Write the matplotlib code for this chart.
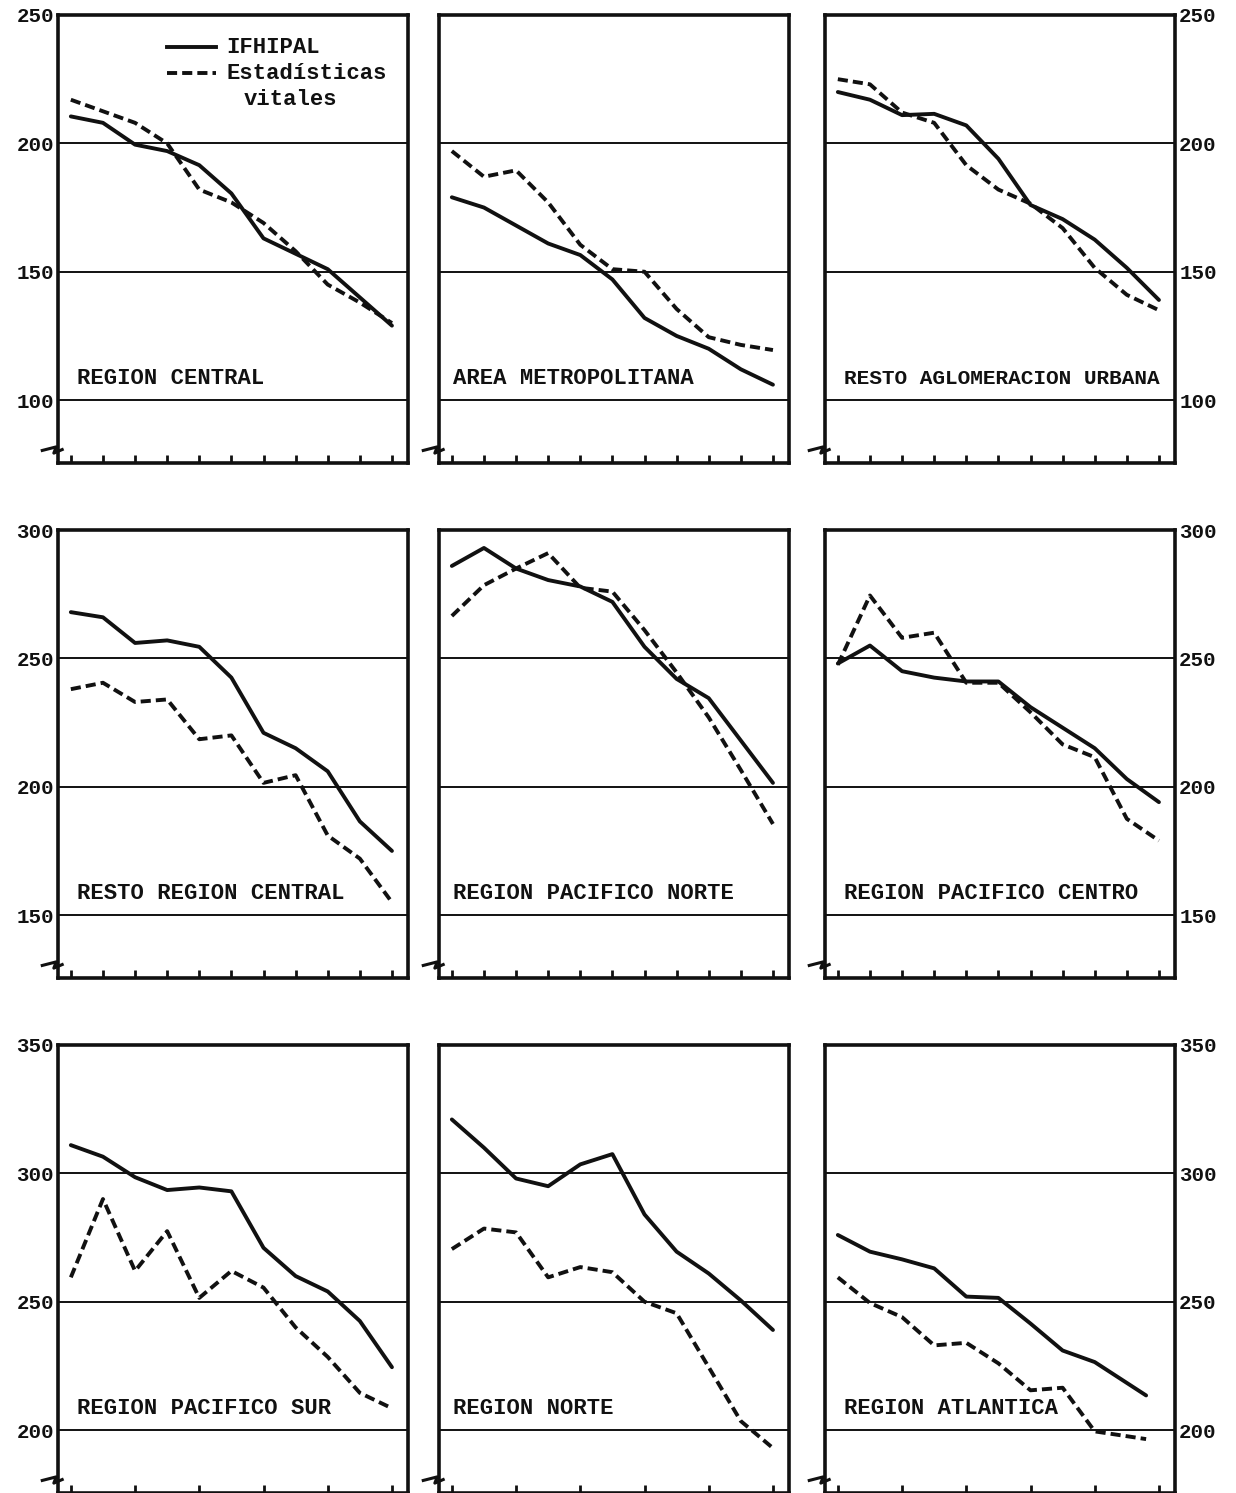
import matplotlib
matplotlib.use("Agg")
import matplotlib.pyplot as plt
from matplotlib.lines import Line2D

# ---------------- data ----------------
x11 = list(range(11))
x_atl = [0, 1, 2, 3, 4, 5, 6, 7, 8, 9.6]

titles = ["REGION CENTRAL", "AREA METROPOLITANA", "RESTO AGLOMERACION URBANA",
          "RESTO REGION CENTRAL", "REGION PACIFICO NORTE", "REGION PACIFICO CENTRO",
          "REGION PACIFICO SUR", "REGION NORTE", "REGION ATLANTICA"]

rc_ifh = [210.5, 208, 199.5, 197, 191.5, 180.5, 163, 157, 151, 140, 129]
rc_ev = [217, 212.5, 208, 200, 182, 177, 169, 158, 145, 138, 130]

am_ifh = [179, 175, 168, 161, 156.5, 147, 132, 125, 120, 112, 106]
am_ev = [197, 187, 189.5, 177, 160.5, 151, 150, 135.5, 124.5, 121.5, 119.5]

rau_ifh = [220, 217, 211, 211.5, 207, 194, 176, 170.5, 162.5, 151.5, 139]
rau_ev = [225, 223, 212, 208, 191.5, 182, 176.5, 167, 151.5, 141, 135]

rrc_ifh = [268, 266, 256, 257, 254.5, 242.5, 221, 215, 206, 186.5, 175]
rrc_ev = [238, 240.5, 233, 234, 218.5, 220, 201.5, 204.5, 181, 172, 155]

pn_ifh = [286, 293, 285, 280.5, 278, 272, 254.5, 242, 234.5, 218, 201.5]
pn_ev = [266.5, 278.5, 285, 291, 277.5, 276, 261, 244.5, 227, 206.5, 185.5]

pc_ifh = [248, 255, 245, 242.5, 241, 241, 231, 223, 215, 203, 194]
pc_ev = [247.5, 274.5, 258, 260, 240.5, 240.5, 229, 216.5, 211.5, 187.5, 179]

ps_ifh = [311, 306.5, 298.5, 293.5, 294.5, 293, 271, 260, 254, 242.5, 224.5]
ps_ev = [259.5, 290, 262, 277.5, 251.5, 262, 255.5, 240, 228.5, 214.5, 208.5]

rn_ifh = [321, 310, 298, 295, 303.5, 307.5, 284, 269.5, 261, 250.5, 239]
rn_ev = [270.5, 278.5, 277, 259.5, 263.5, 261.5, 250, 245.5, 224.5, 203.5, 193]

ra_ifh = [276, 269.5, 266.5, 263, 252, 251.5, 241.5, 231, 226.5, 213.5]
ra_ev = [259.5, 249.5, 244, 233, 234, 226, 215.5, 216.5, 199.5, 196.5]

series = [
    (x11, rc_ifh, rc_ev), (x11, am_ifh, am_ev), (x11, rau_ifh, rau_ev),
    (x11, rrc_ifh, rrc_ev), (x11, pn_ifh, pn_ev), (x11, pc_ifh, pc_ev),
    (x11, ps_ifh, ps_ev), (x11, rn_ifh, rn_ev), (x_atl, ra_ifh, ra_ev),
]

row_grid = [[100, 150, 200, 250], [150, 200, 250, 300], [200, 250, 300, 350]]
row_xticks = [list(range(11)), list(range(11)), [0, 2, 4, 6, 8, 10]]

legend_labels = ["IFHIPAL", "Estadísticas", "vitales"]

# ---------------- layout ----------------
W, H = 1236, 1493
fig = plt.figure(figsize=(W / 100, H / 100), dpi=100)
fig.patch.set_facecolor("white")

col_left = [58, 439, 825]
col_w = 350
row_top = [15, 530, 1045]
row_h = 448

FONT = "Liberation Mono"
INK = "#111111"
LW = 2.8
DASH = (0, (2.6, 1.3))

for i in range(9):
    r, c = divmod(i, 3)
    ax = fig.add_axes([col_left[c] / W, 1 - (row_top[r] + row_h) / H, col_w / W, row_h / H])
    grid = row_grid[r]
    ymin = grid[0] - 24.5
    ax.set_ylim(ymin, grid[-1])
    ax.set_xlim(-0.4, 10.5)

    for g in grid[:-1]:
        ax.axhline(g, color=INK, lw=1.4, zorder=1)

    xs, ifh, ev = series[i]
    ax.plot(xs, ifh, color=INK, lw=LW, solid_joinstyle="round", solid_capstyle="round", zorder=3)
    ax.plot(xs, ev, color=INK, lw=LW, linestyle=DASH, dash_capstyle="butt", zorder=3)

    for s in ax.spines.values():
        s.set_linewidth(2.6)
        s.set_color(INK)

    ax.set_xticks(row_xticks[r])
    ax.set_xticklabels([])
    ax.tick_params(axis="x", direction="in", length=6, width=2, color=INK, bottom=True, top=False)

    ax.set_yticks(grid)
    ax.set_yticklabels([str(g) for g in grid])
    ax.tick_params(axis="y", length=0, pad=3, labelsize=15, colors=INK)
    if c == 0:
        ax.tick_params(axis="y", left=True, labelleft=True, right=False, labelright=False)
    elif c == 2:
        ax.tick_params(axis="y", left=False, labelleft=False, right=True, labelright=True)
    else:
        ax.tick_params(axis="y", labelleft=False, labelright=False)
    for lab in ax.get_yticklabels():
        lab.set_fontfamily(FONT)
        lab.set_fontweight("bold")

    tx = 0.04 if c == 1 else 0.053
    fs = 15.2 if len(titles[i]) > 22 else 16
    ax.text(tx, 0.188, titles[i], transform=ax.transAxes, ha="left", va="center",
            fontsize=fs, family=FONT, fontweight="bold", color=INK, zorder=4)

    # axis-break symbol at lower left
    brk = Line2D([-0.045, -0.005, -0.012, 0.012],
                 [0.028, 0.036, 0.022, 0.030],
                 transform=ax.transAxes, color=INK, lw=2.2, clip_on=False)
    ax.add_line(brk)

    if i == 0:
        ax.add_line(Line2D([0.31, 0.45], [0.928, 0.928], transform=ax.transAxes,
                           color=INK, lw=LW))
        ax.add_line(Line2D([0.31, 0.45], [0.870, 0.870], transform=ax.transAxes,
                           color=INK, lw=LW, linestyle=DASH))
        ax.text(0.48, 0.928, legend_labels[0], transform=ax.transAxes, ha="left",
                va="center", fontsize=16, family=FONT, fontweight="bold", color=INK)
        ax.text(0.48, 0.870, legend_labels[1], transform=ax.transAxes, ha="left",
                va="center", fontsize=16, family=FONT, fontweight="bold", color=INK)
        ax.text(0.53, 0.812, legend_labels[2], transform=ax.transAxes, ha="left",
                va="center", fontsize=16, family=FONT, fontweight="bold", color=INK)

fig.savefig("out.png", dpi=100, facecolor="white")
